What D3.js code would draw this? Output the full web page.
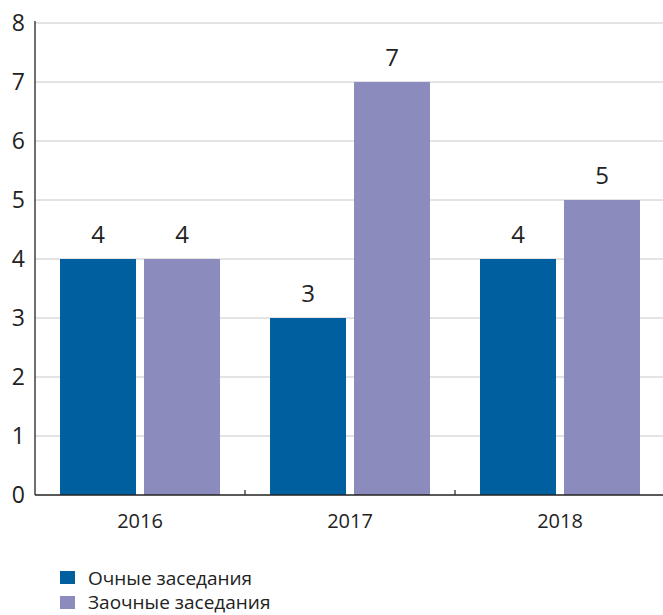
<!DOCTYPE html>
<html><head><meta charset="utf-8">
<script src="https://cdn.jsdelivr.net/npm/d3@7"></script>
<style>body{margin:0;background:#fff;}svg{display:block;font-family:"Open Sans","Noto Sans",sans-serif;}</style>
</head><body>
<svg id="c" width="663" height="615"></svg>
<script>
const categories = ["2016", "2017", "2018"];
const seriesNames = ["Очные заседания", "Заочные заседания"];
const fullTime = [4, 3, 4];
const absentee = [4, 7, 5];
const yTicks = [0, 1, 2, 3, 4, 5, 6, 7, 8];
const colors = ["#005f9e", "#8b8bbd"];

const svg = d3.select("#c");
const x0 = 35, x1 = 665, yBase = 495, yTop = 23;
const x = d3.scaleBand().domain(categories).range([x0, x1]);
const xs = d3.scaleBand().domain([0, 1]).range([25, 185]).paddingInner(0.095);
const y = d3.scaleLinear().domain([0, 8]).range([yBase, yTop]);

// grid
svg.append("g").selectAll("line").data(yTicks.filter(d => d > 0)).join("line")
  .attr("x1", x0).attr("x2", 663).attr("y1", d => y(d)).attr("y2", d => y(d))
  .attr("stroke", "#c8c8c8").attr("stroke-width", 1);

const series = [fullTime, absentee];
series.forEach((vals, si) => {
  const g = svg.append("g");
  g.selectAll("rect").data(vals).join("rect")
    .attr("x", (d, i) => x(categories[i]) + xs(si))
    .attr("width", xs.bandwidth())
    .attr("y", d => y(d))
    .attr("height", d => yBase - y(d))
    .attr("fill", colors[si]);
  g.selectAll("text").data(vals).join("text")
    .attr("x", (d, i) => x(categories[i]) + xs(si) + xs.bandwidth() / 2)
    .attr("y", d => y(d) - 16)
    .attr("text-anchor", "middle")
    .attr("font-size", 24).attr("fill", "#222")
    .text(d => d);
});

// y axis
svg.append("line").attr("x1", x0).attr("x2", x0).attr("y1", yTop - 2).attr("y2", yBase)
  .attr("stroke", "#222").attr("stroke-width", 1.3);
svg.append("g").selectAll("text").data(yTicks).join("text")
  .attr("x", 25).attr("y", d => y(d)).attr("dy", "0.36em")
  .attr("text-anchor", "end").attr("font-size", 23).attr("fill", "#222")
  .text(d => d);

// x axis
svg.append("line").attr("x1", x0).attr("x2", 663).attr("y1", yBase).attr("y2", yBase)
  .attr("stroke", "#222").attr("stroke-width", 1.3);
svg.append("g").selectAll("line").data(categories.slice(1)).join("line")
  .attr("x1", d => x(d)).attr("x2", d => x(d)).attr("y1", yBase).attr("y2", yBase - 5)
  .attr("stroke", "#222").attr("stroke-width", 1.2);
svg.append("g").selectAll("text").data(categories).join("text")
  .attr("x", d => x(d) + x.bandwidth() / 2).attr("y", 528)
  .attr("text-anchor", "middle").attr("font-size", 20).attr("fill", "#222")
  .text(d => d);

// legend
const lg = svg.append("g");
seriesNames.forEach((n, i) => {
  lg.append("rect").attr("x", 60).attr("y", 571 + i * 25).attr("width", 15).attr("height", 13).attr("fill", colors[i]);
  lg.append("text").attr("x", 88).attr("y", 585 + i * 24)
    .attr("font-size", 19).attr("fill", "#222").text(n);
});
</script>
</body></html>
